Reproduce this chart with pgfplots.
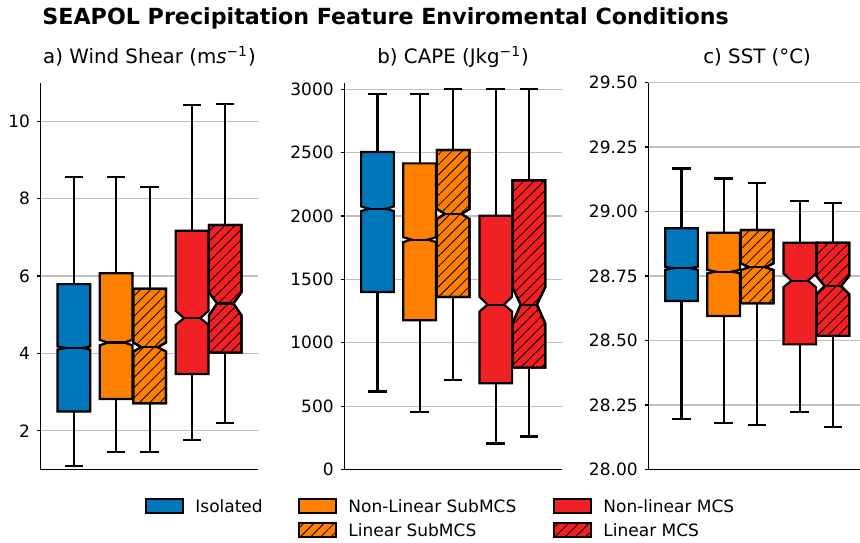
\documentclass[border=0pt]{standalone}
\usepackage{fontspec}
\setmainfont{DejaVu Sans}
\usepackage{pgfplots}
\pgfplotsset{compat=1.18}
\usetikzlibrary{patterns.meta}

\definecolor{cBlue}{HTML}{0077BB}
\definecolor{cOrange}{HTML}{FF8000}
\definecolor{cRed}{HTML}{F02024}

\tikzset{
  edge/.style={draw=black, line width=1.1pt, line join=miter},
  hatch/.style={pattern={Lines[angle=45,distance=3.6pt,line width=0.4pt]}, pattern color=black},
  isoBox/.style={edge, fill=cBlue},
  nlsBox/.style={edge, fill=cOrange},
  lsBox/.style={edge, preaction={fill=cOrange}, hatch},
  nlmBox/.style={edge, fill=cRed},
  lmBox/.style={edge, preaction={fill=cRed}, hatch},
  whisk/.style={draw=black, line width=1.1pt, line cap=rect},
}

% box centres, in units of one box width
\def\pA{1.015}\def\pB{2.304}\def\pC{3.330}\def\pD{4.631}\def\pE{5.642}

% notched box: pos, lower whisker, q1, notch low, median, notch high, q3, upper whisker, style
\newcommand\notchbox[9]{%
  \pgfmathsetmacro\xa{#1-0.5}%
  \pgfmathsetmacro\xb{#1+0.5}%
  \pgfmathsetmacro\xn{#1-0.25}%
  \pgfmathsetmacro\xm{#1+0.25}%
  \edef\doplot{%
    \noexpand\addplot[whisk, mark=none] coordinates {(#1,#3) (#1,#2)};
    \noexpand\addplot[whisk, mark=none] coordinates {(#1,#7) (#1,#8)};
    \noexpand\addplot[whisk, mark=none] coordinates {(\xn,#2) (\xm,#2)};
    \noexpand\addplot[whisk, mark=none] coordinates {(\xn,#8) (\xm,#8)};
    \noexpand\addplot[#9, mark=none] coordinates {(\xa,#3) (\xb,#3) (\xb,#4) (\xm,#5) (\xb,#6) (\xb,#7) (\xa,#7) (\xa,#6) (\xn,#5) (\xa,#4)} -- cycle;
    \noexpand\addplot[whisk, mark=none] coordinates {(\xn,#5) (\xm,#5)};
  }%
  \doplot
}

\pgfplotsset{
  panel/.style={
    scale only axis, width=108.8pt, height=193.5pt,
    anchor=south west,
    xmin=0, xmax=6.654,
    axis lines*=left,
    axis line style={line width=0.65pt, black},
    xtick=\empty,
    ytick pos=left,
    tick align=outside,
    major tick length=1.8pt,
    every tick/.style={line width=0.6pt, black},
    ymajorgrids,
    grid style={black!25, line width=0.6pt},
    tick label style={font=\fontsize{8.5}{10}\selectfont},
    /pgf/number format/assume math mode=true,
    /pgf/number format/1000 sep={},
    scaled y ticks=false,
    every axis title shift=0pt,
    title style={font=\fontsize{9.9}{12}\selectfont, at={(0.5,1)}, anchor=base, yshift=9.6pt, inner sep=0pt},
  }
}

\begin{document}
\begin{tikzpicture}
\useasboundingbox (0,0) rectangle (430pt,271pt);

\node[anchor=base west, inner sep=0pt, font=\fontsize{11.1}{13}\selectfont\bfseries]
  at (21pt,258.5pt) {SEAPOL Precipitation Feature Enviromental Conditions};

% a) wind shear
\begin{axis}[panel, at={(20.35pt,36.25pt)}, ymin=1, ymax=11, ytick={2,4,6,8,10},
  title={a) Wind Shear (m\textit{s}\textsuperscript{−1})}]
  \notchbox{\pA}{1.10}{2.50}{4.10}{4.14}{4.18}{5.79}{8.55}{isoBox}
  \notchbox{\pB}{1.45}{2.82}{4.21}{4.28}{4.35}{6.07}{8.55}{nlsBox}
  \notchbox{\pC}{1.45}{2.71}{4.05}{4.16}{4.28}{5.67}{8.29}{lsBox}
  \notchbox{\pD}{1.77}{3.47}{4.74}{4.91}{5.10}{7.17}{10.41}{nlmBox}
  \notchbox{\pE}{2.20}{4.02}{4.98}{5.29}{5.58}{7.32}{10.44}{lmBox}
\end{axis}

% b) CAPE
\begin{axis}[panel, at={(172.15pt,36.25pt)}, ymin=0, ymax=3054, ytick={0,500,1000,1500,2000,2500,3000},
  title={b) CAPE (Jkg\textsuperscript{−1})}]
  \notchbox{\pA}{615}{1401}{2040}{2058}{2076}{2506}{2963}{isoBox}
  \notchbox{\pB}{452}{1178}{1795}{1814}{1833}{2416}{2963}{nlsBox}
  \notchbox{\pC}{707}{1362}{1977}{2017}{2056}{2521}{3000}{lsBox}
  \notchbox{\pD}{205}{681}{1246}{1301}{1364}{2003}{3000}{nlmBox}
  \notchbox{\pE}{260}{804}{1154}{1301}{1438}{2282}{3000}{lmBox}
\end{axis}

% c) SST
\begin{axis}[panel, at={(324.15pt,36.25pt)}, ymin=28, ymax=29.5,
  ytick={28,28.25,28.5,28.75,29,29.25,29.5},
  yticklabel style={/pgf/number format/.cd, fixed, fixed zerofill, precision=2},
  title={c) SST (°C)}]
  \notchbox{\pA}{28.195}{28.653}{28.774}{28.780}{28.786}{28.935}{29.167}{isoBox}
  \notchbox{\pB}{28.180}{28.595}{28.760}{28.767}{28.774}{28.918}{29.128}{nlsBox}
  \notchbox{\pC}{28.172}{28.644}{28.773}{28.784}{28.799}{28.928}{29.110}{lsBox}
  \notchbox{\pD}{28.222}{28.485}{28.706}{28.732}{28.760}{28.879}{29.041}{nlmBox}
  \notchbox{\pE}{28.165}{28.518}{28.680}{28.711}{28.750}{28.879}{29.034}{lmBox}
\end{axis}

% legend
\begin{scope}[font=\fontsize{8.5}{10}\selectfont, every node/.style={anchor=base west, inner sep=0pt}]
  \path[isoBox] (73pt,14.5pt) rectangle (91.5pt,21.5pt);
  \node at (97.5pt,15pt) {Isolated};
  \path[nlsBox] (149.5pt,14.5pt) rectangle (168pt,21.5pt);
  \node at (174pt,15pt) {Non-Linear SubMCS};
  \path[lsBox] (149.5pt,2.5pt) rectangle (168pt,9.5pt);
  \node at (174pt,3pt) {Linear SubMCS};
  \path[nlmBox] (277pt,14.5pt) rectangle (295.5pt,21.5pt);
  \node at (301.5pt,15pt) {Non-linear MCS};
  \path[lmBox] (277pt,2.5pt) rectangle (295.5pt,9.5pt);
  \node at (301.5pt,3pt) {Linear MCS};
\end{scope}
\end{tikzpicture}
\end{document}
